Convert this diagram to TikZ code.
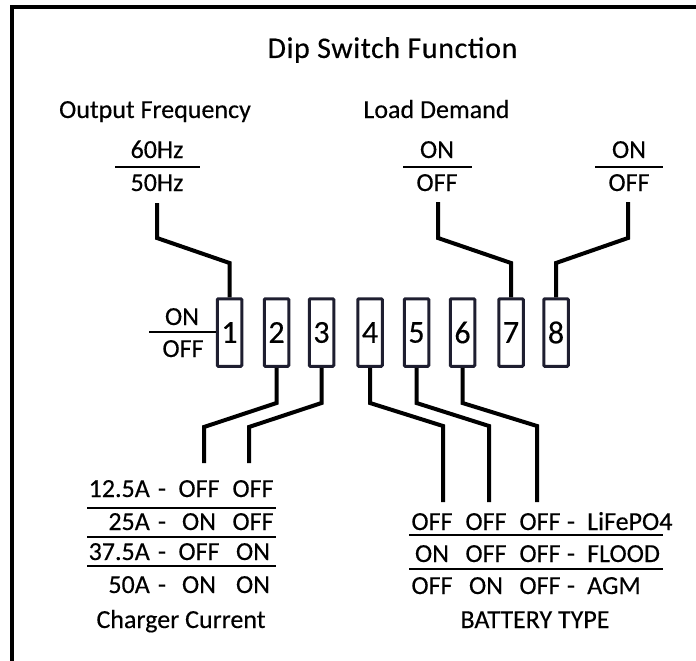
\documentclass[tikz,border=0pt]{standalone}
\usepackage{fontspec}
\setmainfont{Carlito}[FakeBold=0.3]
\definecolor{boxc}{RGB}{30,30,48}
\begin{document}
\begin{tikzpicture}[x=1pt,y=-1pt,
  conn/.style={line width=4pt, line join=miter},
  sw/.style={draw=boxc, line width=3pt, rounded corners=1pt, minimum width=24.5pt, minimum height=67.5pt, inner sep=0pt, font=\fontsize{32}{32}\selectfont},
  lbl/.style={anchor=base, inner sep=0pt, font=\fontsize{26}{26}\selectfont},
  lble/.style={lbl, anchor=base east},
  lblw/.style={lbl, anchor=base west},
  rulel/.style={line width=2pt},
  frame/.style={line width=4pt, line join=miter}]
\useasboundingbox (0,0) rectangle (696,661);
% frame
\coordinate (fa) at (12,661);
\coordinate (fb) at (12,7);
\coordinate (fc) at (696,7);
\draw[frame] (fa) -- (fb) -- (fc);
% title and headings
\node[lbl, font=\fontsize{30}{30}\selectfont] (title) at (392.5,58) {\addfontfeature{LetterSpace=2}Dip Switch Function};
\node[lbl] (of) at (155,118) {Output Frequency};
\node[lbl] (ld) at (436.5,118) {Load Demand};
% top labels
\node[lbl] (hz60) at (157,158) {60Hz};
\node[lbl] (hz50) at (157,191) {50Hz};
\draw[rulel] (115,167) -- (200,167);
\node[lbl] (on7) at (437,158) {ON};
\node[lbl] (off7) at (437,191) {OFF};
\draw[rulel] (403,167) -- (472,167);
\node[lbl] (on8) at (629,158) {ON};
\node[lbl] (off8) at (629,191) {OFF};
\draw[rulel] (595,167) -- (663,167);
% switches
\node[sw] (s1) at (229.5,332.5) {1};
\node[sw] (s2) at (276.5,332.5) {2};
\node[sw] (s3) at (321.5,332.5) {3};
\node[sw] (s4) at (370,332.5) {4};
\node[sw] (s5) at (416.5,332.5) {5};
\node[sw] (s6) at (462.5,332.5) {6};
\node[sw] (s7) at (511,332.5) {7};
\node[sw] (s8) at (556,332.5) {8};
% left on/off
\node[lbl] (on1) at (182,325) {ON};
\node[lbl] (off1) at (183,357) {OFF};
\coordinate (r1) at (149,332);
\draw[rulel] (r1) -- (r1 -| s1.west);
% connectors up
\coordinate (k1) at (157,238); \coordinate (e1) at (157,203);
\coordinate (k7) at (438,238); \coordinate (e7) at (438,202);
\coordinate (k8) at (628,238); \coordinate (e8) at (628,202);
\draw[conn] (s1.north) -- (s1.north |- 0,263) -- (k1) -- (e1);
\draw[conn] (s7.north) -- (s7.north |- 0,263) -- (k7) -- (e7);
\draw[conn] (s8.north) -- (s8.north |- 0,263) -- (k8) -- (e8);
% connectors down
\coordinate (k2) at (204,427); \coordinate (e2) at (204,463);
\coordinate (k3) at (249,427); \coordinate (e3) at (249,463);
\coordinate (k4) at (443,426); \coordinate (e4) at (443,502);
\coordinate (k5) at (489,426); \coordinate (e5) at (489,502);
\coordinate (k6) at (537,426); \coordinate (e6) at (537,502);
\draw[conn] (s2.south) -- (s2.south |- 0,403) -- (k2) -- (e2);
\draw[conn] (s3.south) -- (s3.south |- 0,403) -- (k3) -- (e3);
\draw[conn] (s4.south) -- (s4.south |- 0,403) -- (k4) -- (e4);
\draw[conn] (s5.south) -- (s5.south |- 0,403) -- (k5) -- (e5);
\draw[conn] (s6.south) -- (s6.south |- 0,403) -- (k6) -- (e6);
% charger table
\node[lble] (cl1) at (150,497) {12.5A}; \node[lbl] (cd1) at (162,497) {-}; \node[lbl] (ca1) at (199,497) {OFF}; \node[lbl] (cb1) at (253,497) {OFF};
\node[lble] (cl2) at (150,530) {25A};   \node[lbl] (cd2) at (162,530) {-}; \node[lbl] (ca2) at (199,530) {ON};  \node[lbl] (cb2) at (253,530) {OFF};
\node[lble] (cl3) at (150,560) {37.5A}; \node[lbl] (cd3) at (162,560) {-}; \node[lbl] (ca3) at (199,560) {OFF}; \node[lbl] (cb3) at (253,560) {ON};
\node[lble] (cl4) at (150,593) {50A};   \node[lbl] (cd4) at (162,593) {-}; \node[lbl] (ca4) at (199,593) {ON};  \node[lbl] (cb4) at (253,593) {ON};
\draw[rulel] (87,508) -- (276,508);
\draw[rulel] (87,537) -- (276,537);
\draw[rulel] (87,566) -- (276,566);
\node[lbl] (cc) at (181,628) {Charger Current};
% battery table
\node[lbl] (ba1) at (432,530) {OFF}; \node[lbl] (bb1) at (486,530) {OFF}; \node[lbl] (bc1) at (540,530) {OFF}; \node[lbl] (bd1) at (571,530) {-}; \node[lblw] (bl1) at (587,530) {LiFePO4};
\node[lbl] (ba2) at (432,562) {ON};  \node[lbl] (bb2) at (486,562) {OFF}; \node[lbl] (bc2) at (540,562) {OFF}; \node[lbl] (bd2) at (571,562) {-}; \node[lblw] (bl2) at (587,562) {FLOOD};
\node[lbl] (ba3) at (432,594) {OFF}; \node[lbl] (bb3) at (486,594) {ON};  \node[lbl] (bc3) at (540,594) {OFF}; \node[lbl] (bd3) at (571,594) {-}; \node[lblw] (bl3) at (587,594) {AGM};
\draw[rulel] (409,535) -- (663,535);
\draw[rulel] (409,569) -- (663,569);
\node[lbl] (bt) at (535,628) {BATTERY TYPE};
\end{tikzpicture}
\end{document}
